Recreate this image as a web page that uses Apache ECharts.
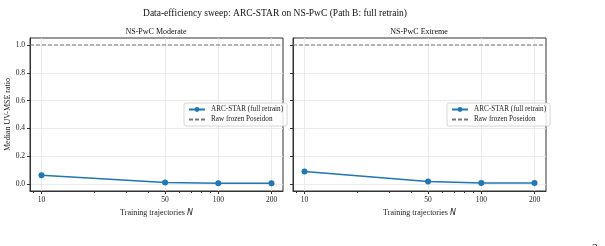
<!DOCTYPE html>
<html>
<head>
<meta charset="utf-8">
<script src="https://cdn.jsdelivr.net/npm/echarts@6/dist/echarts.min.js"></script>
<style>
  html, body { margin: 0; padding: 0; background: #fff; }
  #plot { width: 605px; height: 246px; }
</style>
</head>
<body>
<div id="plot"></div>
<script>
  const trajectories = [10, 50, 100, 200];
  const moderate = [0.064, 0.011, 0.005, 0.005];
  const extreme = [0.091, 0.019, 0.007, 0.007];
  const baseline = 1.0;
  const minorTicks = [9, 20, 30, 40, 60, 70, 80, 90];
  const yTicks = [0.0, 0.2, 0.4, 0.6, 0.8, 1.0];
  const panelTitles = ["NS-PwC Moderate", "NS-PwC Extreme"];
  const seriesName = "ARC-STAR (full retrain)";
  const baseName = "Raw frozen Poseidon";

  const serif = "Liberation Serif";
  const blue = "#1f77b4";
  const lg = (v) => Math.log10(v);

  // matplotlib style 5% margins, in log space
  const lo = lg(trajectories[0]);
  const hi = lg(trajectories[trajectories.length - 1]);
  const pad = (hi - lo) * 0.05;
  const xMin = lo - pad;
  const xMax = hi + pad;

  const grids = [
    { left: 30, right: 322, top: 38, bottom: 55, show: true, borderColor: "#333", borderWidth: 1 },
    { left: 293, right: 59, top: 38, bottom: 55, show: true, borderColor: "#333", borderWidth: 1 },
  ];

  function majorX(i) {
    return {
      type: "value",
      gridIndex: i,
      min: xMin,
      max: xMax,
      axisLine: { show: true, onZero: false, lineStyle: { color: "#333", width: 1 } },
      axisTick: { show: true, length: 3, customValues: trajectories.map(lg), lineStyle: { color: "#333" } },
      axisLabel: {
        customValues: trajectories.map(lg),
        formatter: (v) => String(Math.round(Math.pow(10, v))),
        fontFamily: serif, fontSize: 7.5, color: "#222", margin: 5,
      },
      splitLine: { show: true, lineStyle: { color: "#e6e6e6", width: 0.8 } },
      name: "{a|Training trajectories }{b|N}",
      nameLocation: "middle",
      nameGap: 14,
      nameTextStyle: {
        rich: {
          a: { fontFamily: serif, fontSize: 8, color: "#222" },
          b: { fontFamily: "DejaVu Sans", fontStyle: "italic", fontSize: 8, color: "#222" },
        },
      },
    };
  }

  function minorX(i) {
    return {
      type: "value",
      gridIndex: i,
      min: xMin,
      max: xMax,
      position: "bottom",
      axisLine: { show: false, onZero: false },
      axisTick: { show: true, length: 2, customValues: minorTicks.map(lg), lineStyle: { color: "#333" } },
      axisLabel: { show: false },
      splitLine: { show: false },
    };
  }

  function yAx(i) {
    return {
      type: "value",
      gridIndex: i,
      min: -0.05,
      max: 1.05,
      axisLine: { show: true, onZero: false, lineStyle: { color: "#333", width: 1 } },
      axisTick: { show: true, length: 3, customValues: yTicks, lineStyle: { color: "#333" } },
      axisLabel: {
        show: i === 0,
        customValues: yTicks,
        formatter: (v) => v.toFixed(1),
        fontFamily: serif, fontSize: 7.5, color: "#222", margin: 5,
      },
      splitLine: { show: true, lineStyle: { color: "#e6e6e6", width: 0.8 } },
      name: i === 0 ? "Median UV-MSE ratio" : "",
      nameLocation: "middle",
      nameGap: 17,
      nameTextStyle: { fontFamily: serif, fontSize: 8, color: "#222" },
    };
  }

  function panelSeries(i, values) {
    return [
      {
        name: seriesName,
        type: "line",
        xAxisIndex: i * 2,
        yAxisIndex: i,
        data: trajectories.map((n, k) => [lg(n), values[k]]),
        symbol: "circle",
        symbolSize: 6,
        color: blue,
        lineStyle: { width: 1.5, color: blue },
        itemStyle: { color: blue },
        z: 3,
      },
      {
        // axhline: spans the whole axis extent
        name: baseName,
        type: "line",
        xAxisIndex: i * 2,
        yAxisIndex: i,
        data: [[xMin, baseline], [xMax, baseline]],
        symbol: "none",
        showSymbol: false,
        color: "#777",
        lineStyle: { type: [4, 2], width: 1, color: "#777" },
        itemStyle: { color: "#777" },
        z: 2,
      },
    ];
  }

  function panelLegend(left) {
    return {
      orient: "vertical",
      left: left,
      top: 103,
      itemWidth: 16,
      itemHeight: 6,
      itemGap: 3,
      padding: [3, 4, 3, 4],
      borderColor: "#cccccc",
      borderWidth: 0.8,
      borderRadius: 2,
      backgroundColor: "rgba(255,255,255,0.85)",
      data: [
        seriesName,
        // dashed line only, no marker in the key
        { name: baseName, itemStyle: { color: "rgba(0,0,0,0)", borderWidth: 0 } },
      ],
      textStyle: { fontFamily: serif, fontSize: 7.2, color: "#222", padding: [0, 0, 0, 1] },
    };
  }

  const chart = echarts.init(document.getElementById("plot"), null, { renderer: "canvas" });
  chart.setOption({
    animation: false,
    backgroundColor: "#fff",
    title: [
      {
        text: "Data-efficiency sweep: ARC-STAR on NS-PwC (Path B: full retrain)",
        left: 275, top: 8, padding: 0, textAlign: "center",
        textStyle: { fontFamily: serif, fontSize: 9.5, fontWeight: "normal", color: "#111" },
      },
      {
        text: panelTitles[0], left: 156, top: 28, padding: 0, textAlign: "center",
        textStyle: { fontFamily: serif, fontSize: 8, fontWeight: "normal", color: "#111" },
      },
      {
        text: panelTitles[1], left: 419, top: 28, padding: 0, textAlign: "center",
        textStyle: { fontFamily: serif, fontSize: 8, fontWeight: "normal", color: "#111" },
      },
    ],
    legend: [panelLegend(184), panelLegend(447)],
    grid: grids,
    xAxis: [majorX(0), minorX(0), majorX(1), minorX(1)],
    yAxis: [yAx(0), yAx(1)],
    series: panelSeries(0, moderate).concat(panelSeries(1, extreme)),
    graphic: [
      { type: "text", left: 592, top: 243, style: { text: "2", fontFamily: serif, fontSize: 12, fill: "#222" } },
    ],
  });
</script>
</body>
</html>
